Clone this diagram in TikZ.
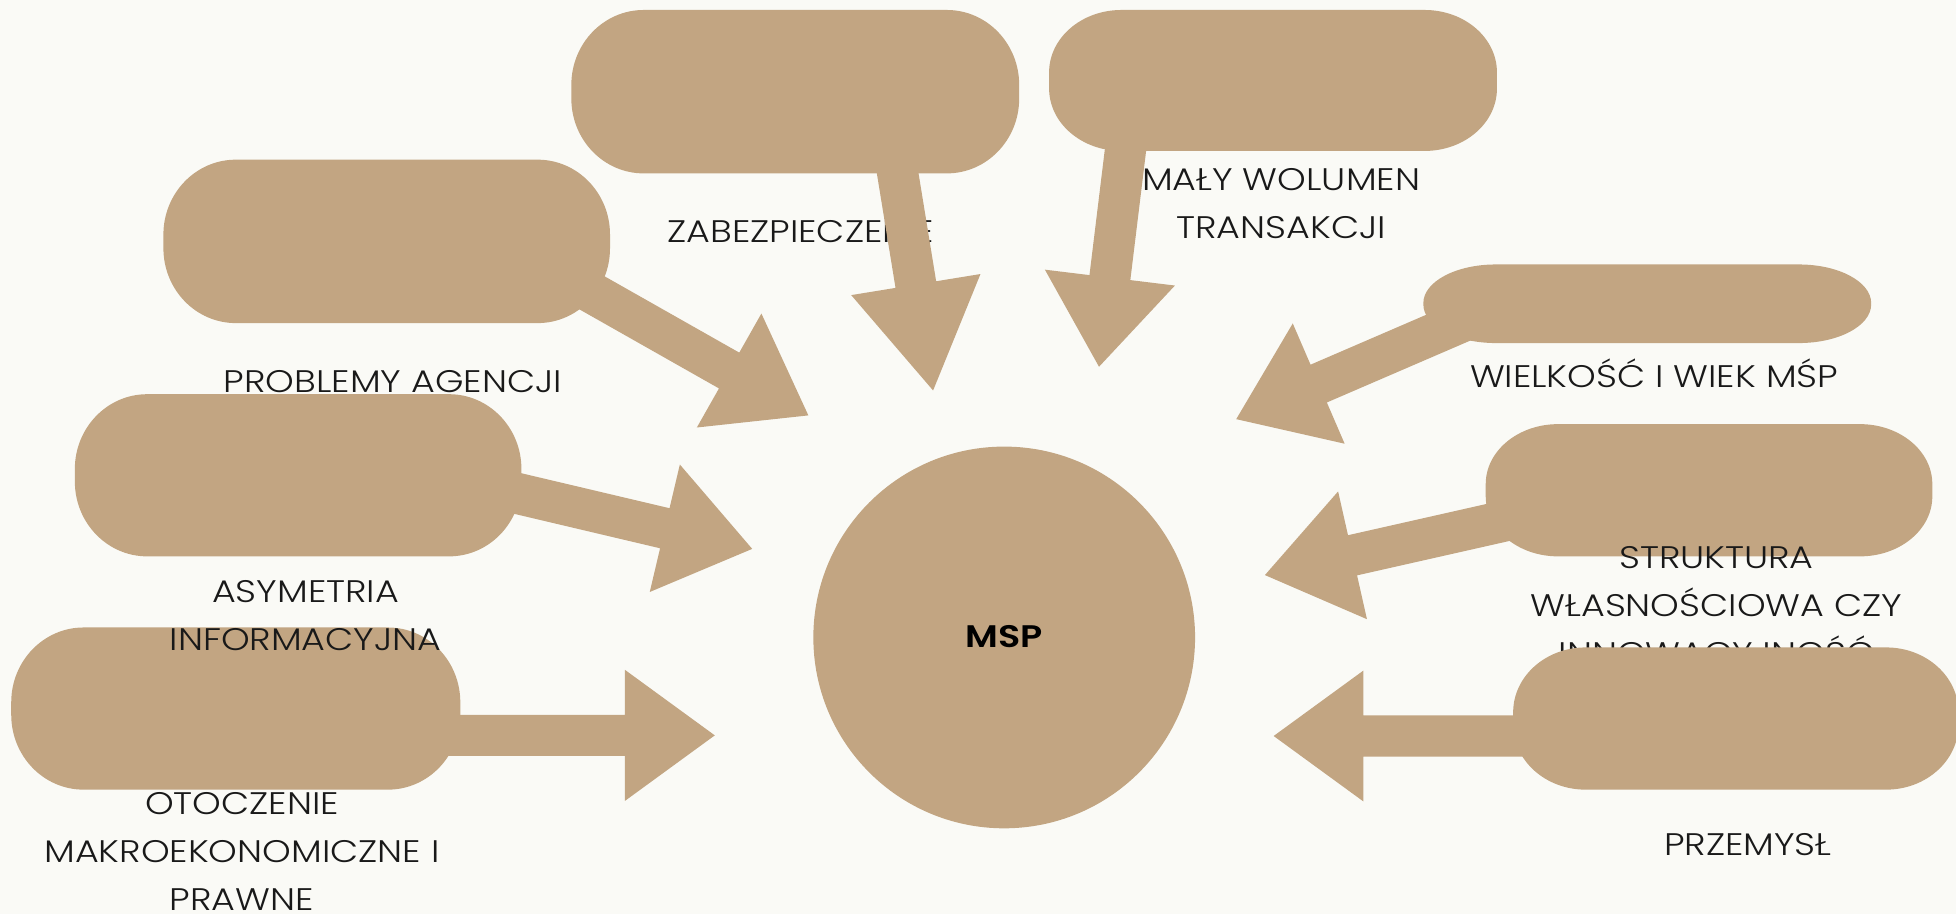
\documentclass[tikz,border=0pt]{standalone}
\usepackage{fontspec}
\setmainfont{Poppins}[UprightFont={* Light},BoldFont={* SemiBold},FakeStretch=1.17]
\usetikzlibrary{calc}
\definecolor{tanfill}{RGB}{194,165,130}
\definecolor{bgcol}{RGB}{250,250,246}
\definecolor{txt}{RGB}{25,25,25}
\tikzset{
  boxnode/.style={rectangle,draw=none,inner sep=0pt,outer sep=0pt},
  lbl/.style={font=\fontsize{25}{38.5}\selectfont,text=txt,align=center,inner sep=0pt},
}
% elliptical-corner box drawn on a named node
\newcommand\ebox[3]{\fill[tanfill] let \p1=(#1.north west), \p2=(#1.south east) in
 (\x1+#2,\y1) -- (\x2-#2,\y1) .. controls (\x2-0.4477*#2,\y1) and (\x2,\y1-0.4477*#3) .. (\x2,\y1-#3)
 -- (\x2,\y2+#3) .. controls (\x2,\y2+0.4477*#3) and (\x2-0.4477*#2,\y2) .. (\x2-#2,\y2)
 -- (\x1+#2,\y2) .. controls (\x1+0.4477*#2,\y2) and (\x1,\y2+0.4477*#3) .. (\x1,\y2+#3)
 -- (\x1,\y1-#3) .. controls (\x1,\y1-0.4477*#3) and (\x1+0.4477*#2,\y1) .. cycle;}
% block arrow from named coordinate #1 to named tip #2, head length #3
\newcommand\blockarrow[3]{%
 \coordinate (#1h) at ($(#2)!#3!(#1)$);
 \fill[tanfill] ($(#1)!16.5pt!90:(#2)$) -- ($(#1h)!16.5pt!90:(#2)$) -- ($(#1h)!52.5pt!90:(#2)$) -- (#2)
  -- ($(#1h)!52.5pt!-90:(#2)$) -- ($(#1h)!16.5pt!-90:(#2)$) -- ($(#1)!16.5pt!-90:(#2)$) -- cycle;}
\begin{document}
\begin{tikzpicture}[x=1pt,y=-1pt]
\clip (0,0) rectangle (1568,733);
\fill[bgcol] (0,0) rectangle (1568,733);
% box nodes
\node[boxnode,minimum width=359pt,minimum height=131pt] (b1) at (637.5,73.5) {};
\node[boxnode,minimum width=359pt,minimum height=113pt] (b2) at (1020.5,64.5) {};
\node[boxnode,minimum width=358pt,minimum height=131pt] (b3) at (310,193.5) {};
\node[boxnode,minimum width=358pt,minimum height=130pt] (b4) at (239,381) {};
\node[boxnode,minimum width=360pt,minimum height=130pt] (b5) at (189,568) {};
\node[boxnode,minimum width=359pt,minimum height=63pt] (b6) at (1320.5,243.5) {};
\node[boxnode,minimum width=358pt,minimum height=106pt] (b7) at (1370,393) {};
\node[boxnode,minimum width=357pt,minimum height=114pt] (b8) at (1391.5,576) {};
% arrow coordinates
\coordinate (sA) at (710,80);   \coordinate (tA) at (748,313);
\coordinate (sB) at (908,73);   \coordinate (tB) at (881,294);
\coordinate (sC) at (445,218);  \coordinate (tC) at (648,333);
\coordinate (sD) at (387,389);  \coordinate (tD) at (603,440);
\coordinate (sE) at (330,589.5);\coordinate (tE) at (573,589.5);
\coordinate (sF) at (1195,248); \coordinate (tF) at (991,336);
\coordinate (sG) at (1231,412); \coordinate (tG) at (1014,461);
\coordinate (sH) at (1260,590); \coordinate (tH) at (1021,590);
% top
\ebox{b1}{58pt}{60pt}
\ebox{b2}{58pt}{50pt}
\node[lbl] (l1) at (642,186) {ZABEZPIECZENIE};
\node[lbl] (l2) at (1027,163) {MAŁY WOLUMEN\\TRANSAKCJI};
\blockarrow{sA}{tA}{86pt}
\blockarrow{sB}{tB}{72pt}
% left
\ebox{b3}{58pt}{60pt}
\blockarrow{sC}{tC}{73pt}
\node[lbl] (l3) at (315,306) {PROBLEMY AGENCJI};
\ebox{b5}{58pt}{60pt}
\blockarrow{sE}{tE}{72pt}
\ebox{b4}{58pt}{60pt}
\blockarrow{sD}{tD}{72pt}
\node[lbl] (l4) at (245,493.5) {ASYMETRIA\\INFORMACYJNA};
\node[lbl] (l5) at (194,682.5) {OTOCZENIE\\MAKROEKONOMICZNE I\\PRAWNE};
% right
\ebox{b6}{58pt}{31pt}
\blockarrow{sF}{tF}{72pt}
\node[lbl] (l6) at (1326,299) {WIELKOŚĆ I WIEK MŚP};
\ebox{b7}{58pt}{48pt}
\blockarrow{sG}{tG}{72pt}
\node[lbl] (l7) at (1376,485.5) {STRUKTURA\\WŁASNOŚCIOWA CZY\\INNOWACYJNOŚĆ};
\ebox{b8}{58pt}{52pt}
\blockarrow{sH}{tH}{72pt}
\node[lbl] (l8) at (1401,677) {PRZEMYSŁ};
% centre
\node[circle,fill=tanfill,minimum size=306pt,inner sep=0pt,font=\fontsize{25}{30}\selectfont\bfseries,text=black] (msp) at (805,511) {\raisebox{2pt}{MSP}};
\end{tikzpicture}
\end{document}
